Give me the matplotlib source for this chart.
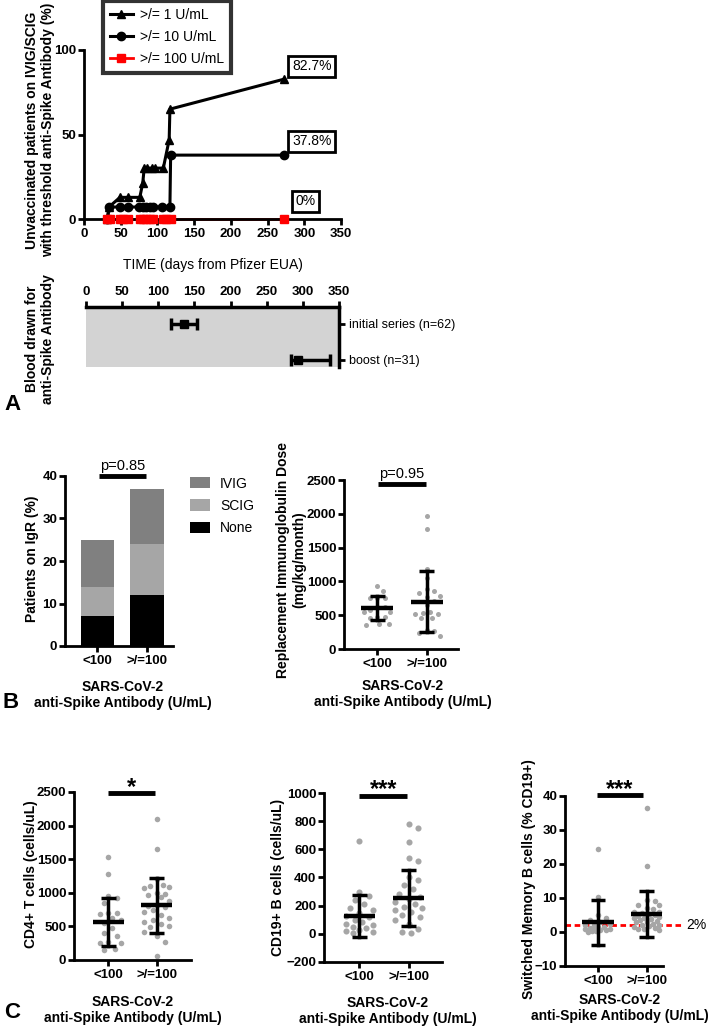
import numpy as np
import matplotlib
matplotlib.use("Agg")
import matplotlib.pyplot as plt
from matplotlib.lines import Line2D
from matplotlib.patches import Patch

plt.rcParams['font.family'] = ['Liberation Sans', 'DejaVu Sans']
plt.rcParams['font.weight'] = 'bold'
plt.rcParams['axes.linewidth'] = 2.0
plt.rcParams['xtick.major.width'] = 2.0
plt.rcParams['ytick.major.width'] = 2.0
plt.rcParams['xtick.major.size'] = 4
plt.rcParams['ytick.major.size'] = 4
plt.rcParams['xtick.major.pad'] = 2.5
plt.rcParams['ytick.major.pad'] = 1.5
plt.rcParams['xtick.labelsize'] = 9.5
plt.rcParams['ytick.labelsize'] = 9.5
plt.rcParams['axes.labelweight'] = 'bold'

# --- panel A: share of patients above each antibody threshold over time
days_1 = [32, 34, 49, 60, 76, 80, 82, 86, 92, 97, 108, 116, 117, 272]
pct_1 = [0, 7.1, 12.8, 12.8, 12.8, 21.3, 30.1, 30.1, 30.1, 30.1, 30.1, 46.9, 65.0, 82.7]
days_10 = [32, 34, 49, 60, 75, 80, 85, 90, 94, 106, 117, 118, 272]
pct_10 = [0, 7.1, 7.1, 7.1, 7.1, 7.1, 7.1, 7.1, 7.1, 7.1, 7.1, 37.8, 37.8]
days_100 = [32, 36, 49, 53, 60, 76, 80, 85, 90, 94, 108, 112, 118, 272]
pct_100 = [0, 0, 0, 0, 0, 0, 0, 0, 0, 0, 0, 0, 0, 0]
final_labels = ['82.7%', '37.8%', '0%']

# blood draw timing (days)
draw_groups = ['initial series (n=62)', 'boost (n=31)']
draw_mid = [136, 293]
draw_lo = [118, 283]
draw_hi = [154, 338]

# --- panel B
groups = ['<100', '>/=100']
igr_none = [7, 12]
igr_scig = [7, 12]
igr_ivig = [11, 13]

dose_lo = [932, 858, 759, 759, 750, 616, 616, 577, 552, 552, 478, 478, 454, 370, 370, 355]
dose_hi = [1972, 1770, 1188, 1055, 888, 863, 823, 789, 774, 710, 651, 552, 537, 518, 518,
           454, 454, 281, 266, 232, 197]
dose_mean = [611, 700]
dose_sd = [178, 453]

# --- panel C
cd4_lo = [1535, 1287, 950, 920, 842, 700, 700, 690, 620, 600, 545, 470, 400, 350, 265,
          260, 250, 170, 150]
cd4_hi = [2100, 1650, 1200, 1110, 1100, 1090, 1070, 1000, 980, 960, 940, 880, 820, 800,
          790, 740, 710, 670, 620, 600, 560, 530, 510, 490, 420, 350, 270, 60]
cd4_mean = [560, 812]
cd4_sd = [356, 406]

cd19_lo = [660, 300, 270, 240, 210, 180, 170, 150, 130, 120, 100, 85, 70, 60, 50, 40,
           30, 20, 10, 5]
cd19_hi = [779, 748, 649, 535, 516, 405, 381, 346, 315, 286, 263, 244, 227, 211, 192,
           185, 168, 156, 133, 121, 97, 69, 31, 14, 9]
cd19_mean = [128, 256]
cd19_sd = [150, 199]

smb_lo = [24.3, 10.2, 5, 4, 3.5, 3, 2.5, 2, 2, 1.5, 1.5, 1.2, 1, 1, 0.8, 0.6, 0.5,
          0.3, 0.2, 0.1]
smb_hi = [36.5, 19.5, 9.5, 9.2, 8, 7.8, 7, 6.8, 6, 5.8, 5.5, 5.2, 5, 4.8, 4.5, 4.2, 4,
          3.8, 3.5, 3.2, 3, 2.8, 2.5, 2.2, 2, 1.8, 1.5, 1.2, 1, 0.8, 0.5]
smb_mean = [2.9, 5.4]
smb_sd = [6.6, 6.8]

DOT = '#a6a6a6'
W, H = 714, 1035
fig = plt.figure(figsize=(W / 100, H / 100), dpi=100)


def place(l, r, t, b):
    return fig.add_axes([l / W, 1 - b / H, (r - l) / W, (b - t) / H])


def ftext(x, y, s, **kw):
    fig.text(x / W, 1 - y / H, s, **kw)


def swarm(ax, xc, vals, dist, max_off=0.3):
    # simple beeswarm: nudge points sideways (within a band) until they stop overlapping
    vals = np.asarray(vals, float)
    pix = ax.transData.transform(np.column_stack([np.full(len(vals), xc), vals]))
    band = ax.transData.transform([(xc + max_off, 0)])[0, 0] - pix[0, 0]
    cands = [0.0]
    k = 1
    while k * dist * 0.25 <= band:
        cands += [k * dist * 0.25, -k * dist * 0.25]
        k += 1
    placed = []
    xs = np.zeros(len(vals))
    for i in np.argsort(-vals):
        px, py = pix[i]
        best, best_d = px, -1
        for off in cands:
            cx = px + off
            d = min([np.hypot(cx - qx, py - qy) for qx, qy in placed] or [1e9])
            if d >= dist:
                best = cx
                break
            if d > best_d:
                best, best_d = cx, d
        placed.append((best, py))
        xs[i] = best
    return ax.transData.inverted().transform(np.column_stack([xs, pix[:, 1]]))[:, 0]


def dot_panel(ax, lo, hi, mean, sd, ms):
    for xc, vals in zip([0, 1], [lo, hi]):
        xs = swarm(ax, xc, vals, ms * 1.389 * 1.5)
        ax.plot(xs, vals, 'o', color=DOT, ms=ms, mec='none', zorder=2)
    for xc, m, s in zip([0, 1], mean, sd):
        ax.plot([xc - 0.32, xc + 0.32], [m, m], color='black', lw=3.2, zorder=3, solid_capstyle='butt')
        ax.plot([xc, xc], [m - s, m + s], color='black', lw=2.5, zorder=3)
        for e in (m - s, m + s):
            ax.plot([xc - 0.15, xc + 0.15], [e, e], color='black', lw=2.5, zorder=3, solid_capstyle='butt')


def cat_axes(ax, xlim):
    ax.set_xlim(*xlim)
    ax.set_xticks([0, 1])
    ax.set_xticklabels(groups)
    ax.spines['top'].set_visible(False)
    ax.spines['right'].set_visible(False)


def sig_bar(ax, x0, x1, y, label, size, weight, dy):
    ax.plot([x0, x1], [y, y], color='black', lw=3.5, clip_on=False, solid_capstyle='butt')
    ax.annotate(label, (0.5 * (x0 + x1), y), xytext=(0, dy), textcoords='offset points',
                ha='center', va='bottom', fontsize=size, fontweight=weight, annotation_clip=False)


# ---------------- A: time course
ax = place(84, 341, 50, 219)
ax.plot(days_1, pct_1, color='black', lw=2.2, marker='^', ms=6, clip_on=False, zorder=4)
ax.plot(days_10, pct_10, color='black', lw=2.2, marker='o', ms=6, clip_on=False, zorder=4)
ax.plot(days_100, pct_100, color='red', lw=2, clip_on=False, zorder=1)
ax.plot(days_100, pct_100, ls='none', marker='s', color='red', ms=5.5, clip_on=False, zorder=5)
ax.set_xlim(0, 350)
ax.set_ylim(0, 100)
ax.set_xticks(range(0, 351, 50))
ax.set_yticks([0, 50, 100])
ax.spines['top'].set_visible(False)
ax.spines['right'].set_visible(False)
for lab, (x, y) in zip(final_labels, [(310, 90.5), (310, 46), (302, 10.6)]):
    ax.text(x, y, lab, ha='center', va='center', fontsize=10, fontweight='normal', clip_on=False,
            bbox=dict(boxstyle='square,pad=0.25', fc='white', ec='black', lw=2))
ftext(213, 265, 'TIME (days from Pfizer EUA)', ha='center', va='center', fontsize=10,
      fontweight='normal')
ftext(40, 130, 'Unvaccinated patients on IVIG/SCIG\nwith threshold anti-Spike Antibody (%)',
      rotation=90, ha='center', va='center', fontsize=10)
handles = [Line2D([], [], color='black', lw=2.2, marker='^', ms=6),
           Line2D([], [], color='black', lw=2.2, marker='o', ms=6),
           Line2D([], [], color='red', lw=2, marker='s', ms=5.5)]
leg = fig.legend(handles, ['>/= 1 U/mL', '>/= 10 U/mL', '>/= 100 U/mL'], loc='upper left',
                 bbox_to_anchor=(102 / W, 1.0), frameon=True, fancybox=False, edgecolor='black',
                 prop=dict(weight='normal', size=10), handlelength=1.7, handletextpad=0.5,
                 borderpad=0.45, labelspacing=0.6, borderaxespad=0.1)
leg.get_frame().set_linewidth(3)

# ---------------- A: blood draw timing
ax2 = place(86, 339, 307, 367)
ax2.set_facecolor('#d3d3d3')
ax2.errorbar(draw_mid, [1, 2], xerr=[np.subtract(draw_mid, draw_lo), np.subtract(draw_hi, draw_mid)],
             fmt='s', color='black', ms=6, capsize=4, elinewidth=2.5, capthick=2.5)
ax2.set_xlim(0, 350)
ax2.set_ylim(2.195, 0.528)
ax2.xaxis.tick_top()
ax2.yaxis.tick_right()
ax2.tick_params(axis='y', pad=3)
ax2.set_xticks(range(0, 351, 50))
ax2.set_yticks([1, 2])
ax2.set_yticklabels(draw_groups, fontweight='normal', fontsize=9)
ax2.spines['left'].set_visible(False)
ax2.spines['bottom'].set_visible(False)
ax2.spines['top'].set_linewidth(2.5)
ax2.spines['right'].set_linewidth(2.5)
ftext(40, 339, 'Blood drawn for\nanti-Spike Antibody', rotation=90, ha='center', va='center',
      fontsize=10)
ftext(4, 404, 'A', fontsize=16, ha='left', va='center')

# ---------------- B: stacked bars
axb = place(65, 173, 476, 646)
x = np.arange(len(groups))
w = 0.685
axb.bar(x, igr_none, width=w, color='black')
axb.bar(x, igr_scig, width=w, bottom=igr_none, color='#a6a6a6')
axb.bar(x, igr_ivig, width=w, bottom=np.add(igr_none, igr_scig), color='#808080')
cat_axes(axb, (-0.66, 1.535))
axb.set_ylim(0, 40)
axb.set_yticks(range(0, 41, 10))
sig_bar(axb, 0.03, 0.98, 40, 'p=0.85', 10.5, 'normal', 2)
ftext(32, 559, 'Patients on IgR (%)', rotation=90, ha='center', va='center', fontsize=10)
ftext(123, 695, 'SARS-CoV-2\nanti-Spike Antibody (U/mL)', ha='center', va='center', fontsize=10)
fig.legend([Patch(fc='#808080'), Patch(fc='#a6a6a6'), Patch(fc='black')], ['IVIG', 'SCIG', 'None'],
           loc='upper left', bbox_to_anchor=(177 / W, 1 - 464 / H), frameon=False,
           prop=dict(weight='normal', size=10), handlelength=1.5, handleheight=0.9,
           handletextpad=0.7, labelspacing=0.6)
ftext(3, 702, 'B', fontsize=16, ha='left', va='center')

# ---------------- B: dose
axd = place(344, 458, 480, 649)
cat_axes(axd, (-0.674, 1.633))
axd.set_ylim(0, 2500)
axd.set_yticks(range(0, 2501, 500))
dot_panel(axd, dose_lo, dose_hi, dose_mean, dose_sd, 3.6)
sig_bar(axd, 0.01, 0.98, 2440, 'p=0.95', 10.5, 'normal', 2)
ftext(291, 560, 'Replacement Immunoglobulin Dose\n(mg/kg/month)', rotation=90, ha='center',
      va='center', fontsize=10)
ftext(403, 694, 'SARS-CoV-2\nanti-Spike Antibody (U/mL)', ha='center', va='center', fontsize=10)

# ---------------- C: lymphocyte subsets
axc1 = place(74, 191, 792, 960)
cat_axes(axc1, (-0.71, 1.71))
axc1.set_ylim(0, 2500)
axc1.set_yticks(range(0, 2501, 500))
dot_panel(axc1, cd4_lo, cd4_hi, cd4_mean, cd4_sd, 4.0)
sig_bar(axc1, 0.0, 0.96, 2480, '*', 17, 'bold', -4)
ftext(31, 874, 'CD4+ T cells (cells/uL)', rotation=90, ha='center', va='center', fontsize=10)
ftext(133, 1010, 'SARS-CoV-2\nanti-Spike Antibody (U/mL)', ha='center', va='center', fontsize=10)
ftext(4, 1013, 'C', fontsize=16, ha='left', va='center')

axc2 = place(324, 442, 793, 962)
cat_axes(axc2, (-0.72, 1.68))
axc2.set_ylim(-200, 1000)
axc2.set_yticks(range(-200, 1001, 200))
dot_panel(axc2, cd19_lo, cd19_hi, cd19_mean, cd19_sd, 4.4)
sig_bar(axc2, 0.0, 0.97, 979, '***', 17, 'bold', -4)
ftext(278, 877, 'CD19+ B cells (cells/uL)', rotation=90, ha='center', va='center', fontsize=10)
ftext(388, 1011, 'SARS-CoV-2\nanti-Spike Antibody (U/mL)', ha='center', va='center', fontsize=10)

axc3 = place(565, 663, 796, 966)
cat_axes(axc3, (-0.68, 1.34))
axc3.set_ylim(-10, 40)
axc3.set_yticks(range(-10, 41, 10))
axc3.plot([-0.68, 1.75], [2, 2], color='red', lw=2, dashes=(2, 1.3), clip_on=False, zorder=1)
axc3.text(1.81, 2, '2%', ha='left', va='center', fontsize=10, fontweight='normal', clip_on=False)
dot_panel(axc3, smb_lo, smb_hi, smb_mean, smb_sd, 4.0)
sig_bar(axc3, -0.03, 0.93, 40.2, '***', 17, 'bold', -4)
ftext(529, 879, 'Switched Memory B cells (% CD19+)', rotation=90, ha='center', va='center',
      fontsize=10)
ftext(620, 1008, 'SARS-CoV-2\nanti-Spike Antibody (U/mL)', ha='center', va='center', fontsize=10)

fig.savefig('out.png', dpi=100)
